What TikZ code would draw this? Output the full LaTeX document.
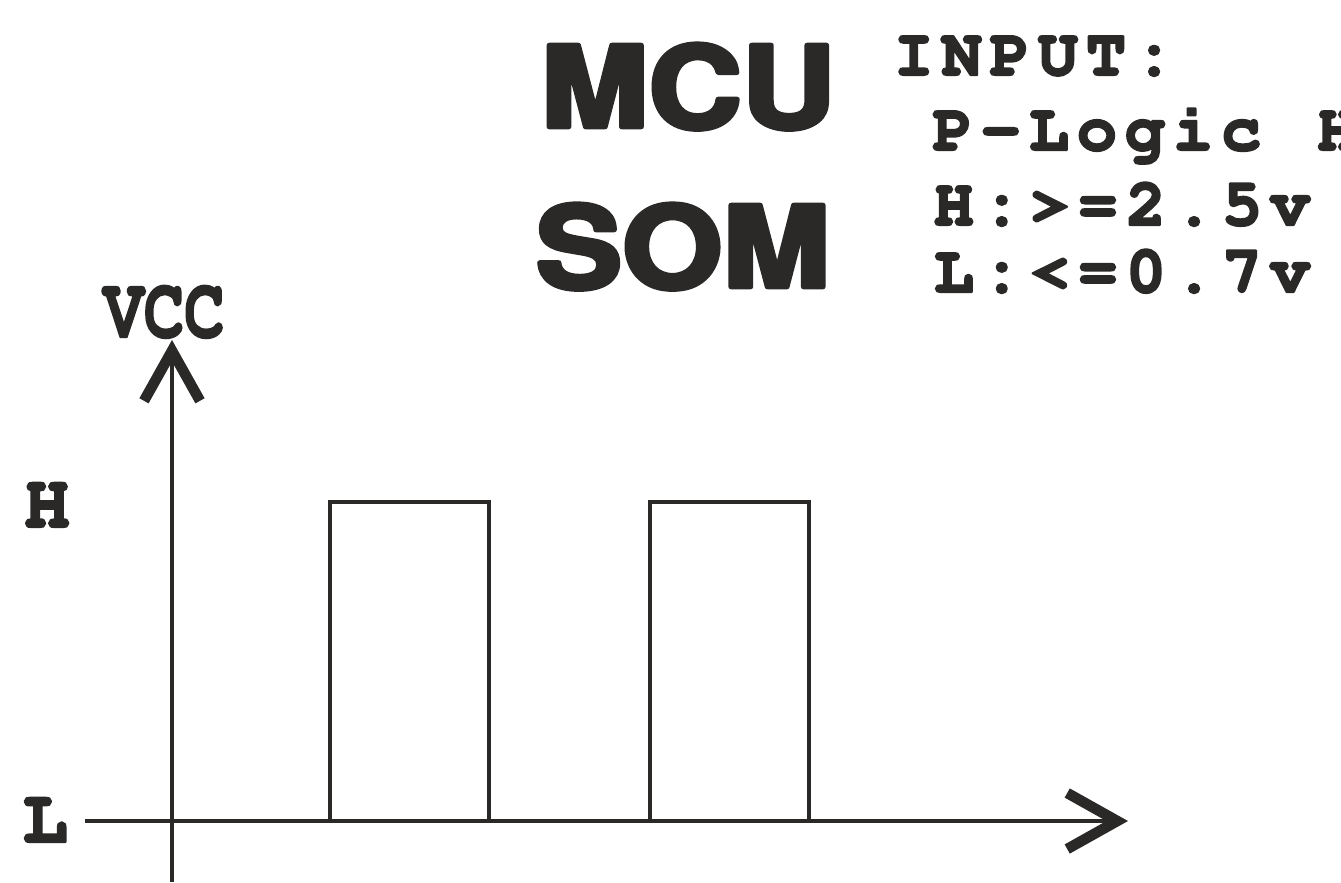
\documentclass[tikz,border=0pt]{standalone}
\usepackage[T1]{fontenc}
\usetikzlibrary{arrows.meta}
\definecolor{inkDark}{HTML}{2B2828}
\newcommand\courbold{\fontencoding{T1}\fontfamily{pcr}\fontseries{b}\selectfont}
\newcommand\helvbold{\fontencoding{T1}\fontfamily{phv}\fontseries{b}\selectfont}
% thicker strokes for the glyphs
\newcommand\heavy[2]{\special{pdf:literal direct 2 Tr 1 j #1 w}#2\special{pdf:literal direct 0 Tr 0 j}}
\makeatletter
\newcommand\spacedtt[1]{\@tfor\sptok:=#1\do{\sptok\kern0.8mm}}
\makeatother

\begin{document}
\begin{tikzpicture}[
    x=0.1mm, y=-0.1mm,
    axis/.style={draw=inkDark, line width=1.3pt, -{Straight Barb[length=5mm, width=5.6mm, line width=3pt]}},
    sig/.style={draw=inkDark, line width=1.3pt},
    big/.style={inner sep=0pt, anchor=base, text=inkDark, font=\helvbold\fontsize{32}{32}\selectfont},
    spec/.style={inner sep=0pt, anchor=base west, text=inkDark, font=\courbold\fontsize{19}{19}\selectfont},
    lvl/.style={inner sep=0pt, anchor=base, text=inkDark, font=\courbold\fontsize{21.6}{22}\selectfont}
  ]
  \useasboundingbox (0,0) rectangle (1341,882);
  \clip (0,0) rectangle (1341,882);

  % axes
  \coordinate (ybot) at (172,882);
  \coordinate (ytop) at (172,340);
  \coordinate (xbeg) at (85,821);
  \coordinate (xend) at (1128,821);
  \draw[axis] (ybot) -- (ytop);
  \draw[axis] (xbeg) -- (xend);

  % pulses
  \foreach \px in {330,650}
    \draw[sig] (\px,821) -- (\px,502) -- ({\px+159},502) -- ({\px+159},821);

  % titles
  \node[big] (mcu) at (688,127) {\scalebox{1.15}[1]{\heavy{1.3}{MCU}}};
  \node[big] (som) at (683,287) {\scalebox{1.15}[1]{\heavy{1.3}{SOM}}};

  % input levels
  \node[spec] (input) at (893,75) {\heavy{0.6}{\spacedtt{INPUT:}}};
  \node[spec] (plogic) at (932,150) {\heavy{0.6}{\spacedtt{P-Logic~H}}};
  \node[spec] (hmin) at (933,225) {\heavy{0.6}{\spacedtt{H:>=2.5v}}};
  \node[spec] (lmax) at (933,292) {\heavy{0.6}{\spacedtt{L:<=0.7v}}};

  % level labels
  \node[lvl, font=\courbold\fontsize{24.5}{25}\selectfont] (vcc) at (164,337) {\scalebox{0.78}[1]{\heavy{0.6}{VCC}}};
  \node[lvl] (hlab) at (47,527) {\heavy{0.6}{H}};
  \node[lvl] (llab) at (45,842) {\heavy{0.6}{L}};
\end{tikzpicture}
\end{document}
